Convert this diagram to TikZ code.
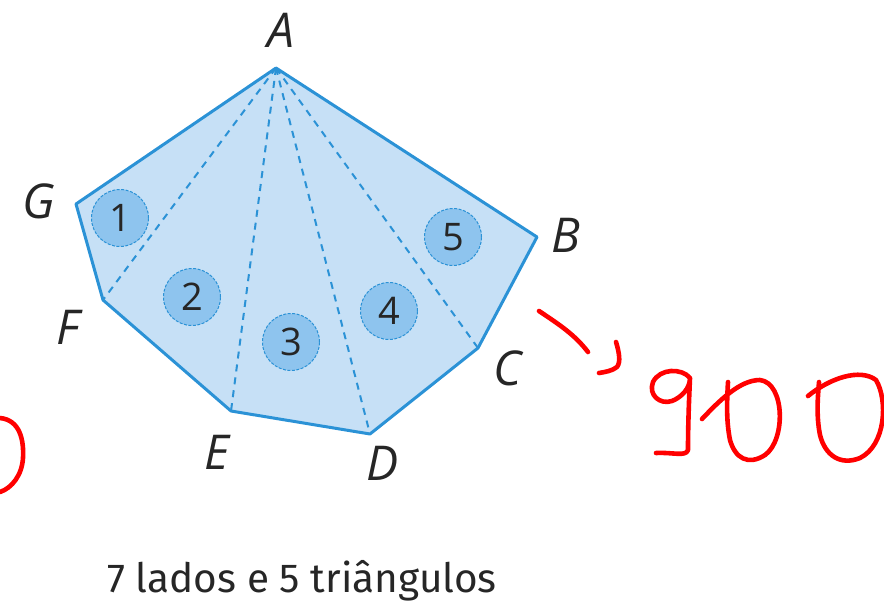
\documentclass[tikz,border=0pt]{standalone}
\usepackage{fontspec}
\setmainfont{Open Sans}
\newfontfamily\capfont{Fira Sans}
\begin{document}
\begin{tikzpicture}[x=1pt,y=-1pt,
  edge/.style={draw=polyblue,line width=3pt,line join=round},
  diag/.style={draw=polyblue,line width=2pt,dash pattern=on 7pt off 6pt},
  numc/.style={circle,minimum size=57pt,inner sep=0pt,fill=numblue,draw=polyblue,line width=1pt,dash pattern=on 3pt off 1.5pt,font=\fontsize{38}{40}\selectfont,text=black!85},
  vlab/.style={font=\fontsize{48}{50}\selectfont\itshape,text=black!85,inner sep=0pt},
  hand/.style={draw=red,line width=4.6pt,line cap=round,line join=round}]
\definecolor{polyblue}{HTML}{2B92D6}
\definecolor{fillblue}{HTML}{C6E0F6}
\definecolor{numblue}{HTML}{8EC4EE}
\useasboundingbox (0,0) rectangle (884,606);
\coordinate (A) at (276,68);
\coordinate (B) at (537,237);
\coordinate (C) at (478,348);
\coordinate (D) at (370,434);
\coordinate (E) at (231,411);
\coordinate (F) at (103,300);
\coordinate (G) at (76,204);
\fill[fillblue] (A)--(B)--(C)--(D)--(E)--(F)--(G)--cycle;
\draw[diag] (A)--(F);
\draw[diag] (A)--(E);
\draw[diag] (A)--(D);
\draw[diag] (A)--(C);
\draw[edge] (A)--(B)--(C)--(D)--(E)--(F)--(G)--cycle;
\node[numc] (n1) at (120,218) {1};
\node[numc] (n2) at (192,297) {2};
\node[numc] (n3) at (291,342) {3};
\node[numc] (n4) at (389,311) {4};
\node[numc] (n5) at (453,237) {5};
\node[vlab] (lA) at (281,30) {A};
\node[vlab] (lB) at (566,235) {B};
\node[vlab] (lC) at (508,368) {C};
\node[vlab] (lD) at (383,463) {D};
\node[vlab] (lE) at (217,452) {E};
\node[vlab] (lF) at (68,327) {F};
\node[vlab] (lG) at (39,201) {G};
\node[font=\capfont\fontsize{40.5}{42}\selectfont,text=black!85] (cap) at (302,581) {7 lados e 5 triângulos};
% handwriting
\draw[hand] (539,311) .. controls (560,325) and (575,335) .. (588,352);
\draw[hand] (616,342) .. controls (619,352) and (621,362) .. (617,367) .. controls (612,371) and (605,372) .. (599,373);
% 9
\draw[hand] (690,378) .. controls (682,368) and (660,368) .. (653,382) .. controls (648,395) and (660,405) .. (672,401) .. controls (682,397) and (690,388) .. (690,378) .. controls (689,400) and (688,425) .. (688,450) .. controls (686,457) and (672,452) .. (656,453);
% first 0
\draw[hand] (702,419) .. controls (720,400) and (740,380) .. (760,380) .. controls (785,383) and (786,440) .. (765,455) .. controls (748,466) and (735,458) .. (730,440) .. controls (726,420) and (727,400) .. (728,382);
% second 0
\draw[hand] (808,396) .. controls (830,378) and (860,368) .. (876,380) .. controls (888,400) and (886,445) .. (860,458) .. controls (840,466) and (825,455) .. (820,435) .. controls (816,415) and (818,395) .. (819,382);
% left partial 0
\draw[hand] (0,418) .. controls (20,420) and (24,440) .. (23,458) .. controls (22,475) and (12,488) .. (0,492);
\end{tikzpicture}
\end{document}
